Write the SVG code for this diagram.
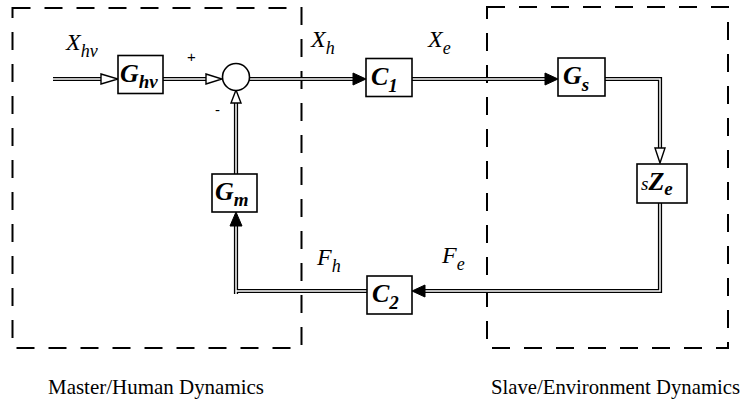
<svg xmlns="http://www.w3.org/2000/svg" width="756" height="404" viewBox="0 0 756 404">
<style>
.bx{fill:#fff;stroke:#000;stroke-width:1.6}
.dash{fill:none;stroke:#000;stroke-width:2;stroke-dasharray:18 14}
.dl{fill:none;stroke:#000;stroke-width:4.2}
.dw{fill:none;stroke:#fff;stroke-width:1.5}
.fa{fill:#000;stroke:#000;stroke-width:1}
.ha{fill:#fff;stroke:#000;stroke-width:1.4}
.lb{font-family:"Liberation Serif","Times New Roman",serif;font-style:italic;fill:#000}
.nb{font-family:"Liberation Serif","Times New Roman",serif;font-style:italic;font-weight:bold;fill:#000}
.cap{font-family:"Liberation Serif","Times New Roman",serif;font-size:22px;fill:#000}
.sg{font-family:"Liberation Sans",Arial,sans-serif;font-size:15px;fill:#000}
</style>
<g id="regions">
<rect class="dash" x="12.5" y="8" width="289" height="340"/>
<rect class="dash" x="487" y="7" width="241" height="341"/>
</g>
<g id="connectors">
<path class="dl" d="M53 79H102"/>
<path class="dl" d="M163 79H209"/>
<path class="dl" d="M249 79H354"/>
<path class="dl" d="M412 79H546"/>
<path class="dl" d="M605 79H660V148"/>
<path class="dl" d="M660 203V291H424"/>
<path class="dl" d="M236 102V174"/>
<path class="dl" d="M236 226V294"/>
<path class="dl" d="M236 291H367"/>
<path class="dw" d="M53 79H102"/>
<path class="dw" d="M163 79H209"/>
<path class="dw" d="M249 79H354"/>
<path class="dw" d="M412 79H546"/>
<path class="dw" d="M605 79H660V148"/>
<path class="dw" d="M660 203V291H424"/>
<path class="dw" d="M236 102V174"/>
<path class="dw" d="M236 226V294"/>
<path class="dw" d="M236 291H367"/>
<polygon class="ha" points="101,74 118,79 101,84"/>
<polygon class="ha" points="206,74 222,79 206,84"/>
<polygon class="ha" points="231,103 236,90 241,103"/>
<polygon class="fa" points="353,73 366,79 353,85"/>
<polygon class="fa" points="545,73 558,79 545,85"/>
<polygon class="ha" points="655,148 660,163 665,148"/>
<polygon class="fa" points="425,285 412,291 425,297"/>
<polygon class="fa" points="230,226 236,212 242,226"/>
</g>
<g id="sum">
<circle cx="236" cy="77" r="13.5" fill="#fff" stroke="#000" stroke-width="1.6"/>
<text class="sg" x="187" y="62">+</text>
<text class="sg" x="215" y="115">-</text>
</g>
<g id="Ghv">
<rect class="bx" x="118" y="55.5" width="45" height="38"/>
<text class="nb" x="120" y="82" font-size="26">G<tspan font-size="19" dy="6">hv</tspan></text>
</g>
<g id="C1">
<rect class="bx" x="366" y="58.5" width="46" height="38"/>
<text class="nb" x="371" y="85" font-size="26">C<tspan font-size="19" dy="7">1</tspan></text>
</g>
<g id="Gs">
<rect class="bx" x="558" y="58" width="47" height="38"/>
<text class="nb" x="563" y="84" font-size="26">G<tspan font-size="19" dy="7">s</tspan></text>
</g>
<g id="sZe">
<rect class="bx" x="637" y="164" width="50" height="39"/>
<text class="lb" x="641" y="190" font-size="19">s<tspan class="nb" font-size="26">Z</tspan><tspan class="nb" font-size="19" dy="5">e</tspan></text>
</g>
<g id="Gm">
<rect class="bx" x="212" y="174" width="45" height="38"/>
<text class="nb" x="215" y="200" font-size="26">G<tspan font-size="19" dy="6">m</tspan></text>
</g>
<g id="C2">
<rect class="bx" x="367" y="276" width="45" height="38"/>
<text class="nb" x="372" y="302" font-size="26">C<tspan font-size="19" dy="7">2</tspan></text>
</g>
<g id="labels">
<text class="lb" x="66" y="50" font-size="24">X<tspan font-size="18" dy="7">hv</tspan></text>
<text class="lb" x="311" y="47" font-size="24">X<tspan font-size="18" dy="7">h</tspan></text>
<text class="lb" x="428" y="47" font-size="24">X<tspan font-size="18" dy="7">e</tspan></text>
<text class="lb" x="317" y="265" font-size="24">F<tspan font-size="18" dy="7">h</tspan></text>
<text class="lb" x="442" y="263" font-size="24">F<tspan font-size="18" dy="7">e</tspan></text>
<text class="cap" x="48" y="394" textLength="216" lengthAdjust="spacingAndGlyphs">Master/Human Dynamics</text>
<text class="cap" x="491" y="394" font-size="21.5" textLength="249" lengthAdjust="spacingAndGlyphs">Slave/Environment Dynamics</text>
</g>
</svg>
